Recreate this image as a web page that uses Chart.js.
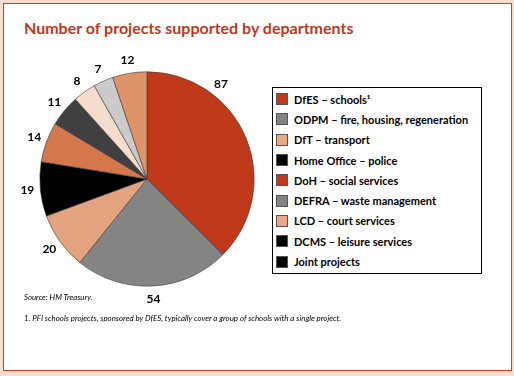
<!DOCTYPE html>
<html>
<head>
<meta charset="utf-8">
<script src="https://cdn.jsdelivr.net/npm/chart.js@4.4.0/dist/chart.umd.min.js"></script>
<style>
  html, body { margin:0; padding:0; }
  body { width:514px; height:376px; background:#f8dfcd; position:relative; overflow:hidden; font-family: Lato, "Open Sans", sans-serif; }
  #frame { position:absolute; left:3px; top:3px; width:509px; height:368px; box-sizing:border-box; background:#fff; border:1px solid #c8401e; }
  #title { position:absolute; left:24px; top:18px; font-family:Lato, sans-serif; font-weight:bold; font-size:16px; color:#c0391b; white-space:nowrap; }
  #chartWrap { position:absolute; left:10px; top:42px; width:274px; height:274px; }
  #legend { position:absolute; left:272px; top:87px; width:210px; height:187px; box-sizing:border-box; border:1px solid #000; background:#fff; padding-top:1px; }
  .row { height:20.3px; display:flex; align-items:center; font-family:Lato, sans-serif; font-weight:bold; font-size:11px; color:#000; white-space:nowrap; }
  .sw { width:12px; height:12px; margin-left:3px; margin-right:6px; box-sizing:border-box; border:1px solid #555; flex:none; }
  #source { position:absolute; left:24px; top:292px; font-family:Lato, sans-serif; font-style:italic; font-size:7.8px; color:#000; }
  #note { position:absolute; left:24px; top:313px; font-family:Lato, sans-serif; font-style:italic; font-size:7.9px; color:#000; white-space:nowrap; }
</style>
</head>
<body>
<div id="frame"></div>
<div id="title">Number of projects supported by departments</div>
<div id="chartWrap"><canvas id="c" width="274" height="274"></canvas></div>
<div id="legend"></div>
<div id="source">Source: HM Treasury.</div>
<div id="note">1. PFI schools projects, sponsored by DfES, typically cover a group of schools with a single project.</div>
<script>
// Pie slices, clockwise from 12 o'clock
const sliceValues = [87, 54, 20, 19, 14, 11, 8, 7, 12];
const sliceColors = ['#c0391b', '#848484', '#e4a37f', '#000000', '#d4784b', '#404040', '#f5dccd', '#cbcbcb', '#de9468'];

// Legend entries
const legendLabels = [
  'DfES – schools¹',
  'ODPM – fire, housing, regeneration',
  'DfT – transport',
  'Home Office – police',
  'DoH – social services',
  'DEFRA – waste management',
  'LCD – court services',
  'DCMS – leisure services',
  'Joint projects'
];
const legendColors = ['#c0391b', '#848484', '#e8a682', '#000000', '#c0391b', '#848484', '#e8a682', '#000000', '#000000'];

// build HTML legend
const lg = document.getElementById('legend');
legendLabels.forEach((t, i) => {
  const r = document.createElement('div'); r.className = 'row';
  const s = document.createElement('div'); s.className = 'sw'; s.style.background = legendColors[i];
  const tx = document.createElement('span'); tx.textContent = t;
  r.appendChild(s); r.appendChild(tx); lg.appendChild(r);
});

const labelPlugin = {
  id: 'outLabels',
  afterDatasetsDraw(chart, args, opts) {
    const ctx = chart.ctx;
    const meta = chart.getDatasetMeta(0);
    ctx.save();
    ctx.font = 'bold 12px Lato, sans-serif';
    ctx.fillStyle = '#000';
    ctx.textAlign = 'center';
    ctx.textBaseline = 'middle';
    meta.data.forEach((arc, i) => {
      const p = arc.getProps(['x', 'y', 'startAngle', 'endAngle', 'outerRadius'], true);
      let a = (p.startAngle + p.endAngle) / 2;
      const shift = (opts.angleShift && opts.angleShift[i]) || 0;
      a += shift * Math.PI / 180;
      const rr = p.outerRadius + opts.offset;
      ctx.fillText(String(chart.data.datasets[0].data[i]), p.x + Math.cos(a) * rr, p.y + Math.sin(a) * rr);
    });
    ctx.restore();
  }
};

new Chart(document.getElementById('c'), {
  type: 'pie',
  data: {
    labels: legendLabels,
    datasets: [{
      data: sliceValues,
      backgroundColor: sliceColors,
      borderColor: '#3a3a3a',
      borderWidth: 0.6
    }]
  },
  options: {
    responsive: false,
    devicePixelRatio: 1,
    animation: false,
    layout: { padding: 29.5 },
    plugins: {
      legend: { display: false },
      tooltip: { enabled: false },
      outLabels: { offset: 13, angleShift: [-29.5] }
    }
  },
  plugins: [labelPlugin]
});
</script>
</body>
</html>
